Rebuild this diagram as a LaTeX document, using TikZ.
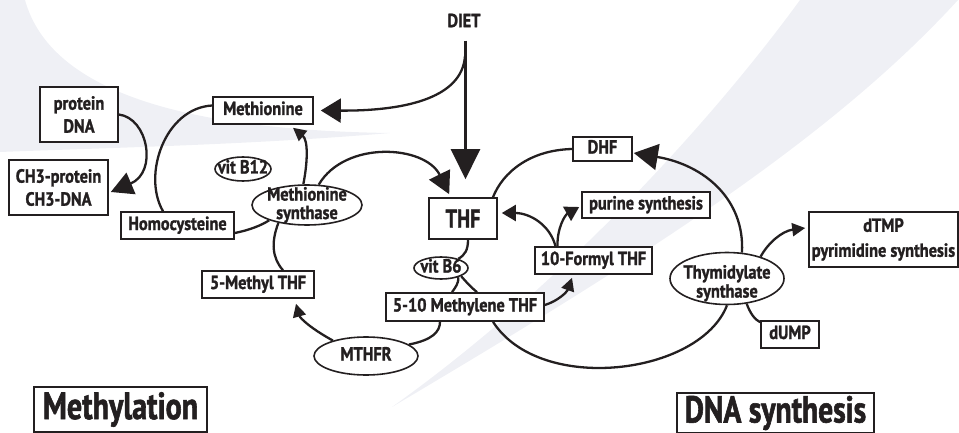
\documentclass[tikz,border=0pt]{standalone}
\usepackage{fontspec}
\setmainfont{PT Sans}[FakeStretch=0.86, BoldFeatures={FakeBold=1.3}]
\newfontfamily\bigfont{PT Sans}[FakeStretch=0.79, BoldFeatures={FakeBold=1.5}]
\usetikzlibrary{arrows.meta,shapes.geometric}
\definecolor{ink}{HTML}{231F20}
\definecolor{swoosh}{HTML}{EFF0F5}
\begin{document}
\begin{tikzpicture}[x=1pt,y=-1pt,
  lab/.style={font=\bfseries\fontsize{19}{23}\selectfont, text=ink, align=center, inner sep=0pt},
  bx/.style={lab, draw=ink, fill=white, line width=1.6pt, rectangle},
  oneline/.style={text height=13.5pt, text depth=4.5pt},
  ell/.style={lab, ellipse, draw=ink, fill=white, line width=1.6pt, inner sep=-6pt},
  con/.style={draw=ink, line width=2.3pt},
  tipbig/.style={-{Triangle[length=22pt,width=23pt]}},
  tipmid/.style={-{Triangle[length=14pt,width=16pt]}},
  tipsml/.style={-{Triangle[length=13pt,width=13pt]}},
]
\useasboundingbox (0,0) rectangle (959,433);
% background swooshes
\fill[swoosh] (0,0) -- (25,0) .. controls (50,90) and (180,130) .. (390,133)
  .. controls (250,145) and (100,148) .. (0,152) -- cycle;
\fill[swoosh] (800,0) .. controls (720,110) and (570,280) .. (392,407)
  .. controls (640,260) and (830,140) .. (958,0) -- cycle;

% boxes
\node[lab] (diet) at (464,20.5) {DIET};
\node[bx, oneline, minimum width=100pt, minimum height=27pt] (met) at (263,110.5) {Methionine};
\node[bx, minimum width=78pt, minimum height=55pt] (prot) at (79,114.5) {protein\\DNA};
\node[bx, minimum width=99pt, minimum height=55pt] (ch3) at (58.5,187.5) {CH3-protein\\CH3-DNA};
\node[bx, oneline, minimum width=113pt, minimum height=27pt] (homo) at (177.5,225.5) {Homocysteine};
\node[bx, oneline, minimum width=112pt, minimum height=27pt] (m5) at (258,284.5) {5-Methyl THF};
\node[bx, font=\bigfont\bfseries\fontsize{25.5}{28}\selectfont, minimum width=68pt, minimum height=41pt] (thf) at (463,218.5) {THF};
\node[bx, oneline, minimum width=158pt, minimum height=28pt] (m10) at (465,307) {5-10 Methylene THF};
\node[bx, oneline, minimum width=117pt, minimum height=27pt] (form) at (593.5,260.5) {10-Formyl THF};
\node[bx, oneline, minimum width=128pt, minimum height=26pt] (pur) at (646,205) {purine synthesis};
\node[bx, oneline, minimum width=59pt, minimum height=24pt] (dhf) at (602.5,149) {DHF};
\node[bx, font=\bfseries\fontsize{19}{25}\selectfont, minimum width=149pt, minimum height=55pt] (dtmp) at (883.5,239.5) {dTMP\\pyrimidine synthesis};
\node[bx, oneline, minimum width=58pt, minimum height=27pt] (dump) at (790,334.5) {dUMP};
\node[bx, font=\bigfont\bfseries\fontsize{38}{40}\selectfont, minimum width=173pt, minimum height=45pt] (methy) at (120.5,409.5) {Methylation};
\node[bx, font=\bigfont\bfseries\fontsize{37.5}{40}\selectfont, minimum width=197pt, minimum height=40pt] (dnas) at (775.5,413) {DNA synthesis};

% ellipses
\node[ell, oneline, minimum width=56pt, minimum height=24pt] (b12) at (243,169) {vit B12};
\node[ell, font=\bfseries\fontsize{19}{18.5}\selectfont, minimum width=110pt, minimum height=40pt] (ms) at (307,205) {Methionine\\synthase};
\node[ell, oneline, minimum width=104pt, minimum height=38pt] (mthfr) at (366,356) {MTHFR};
\node[ell, oneline, minimum width=54pt, minimum height=22pt] (b6) at (441,268) {vit B6};
\node[ell, font=\bfseries\fontsize{19}{19}\selectfont, minimum width=114pt, minimum height=52pt] (ts) at (727,278.5) {\rule{0pt}{23pt}Thymidylate\\synthase};

% connectors
\coordinate (dietbr) at (465,56);
\draw[con, shorten <=13pt, shorten >=18pt, -{Triangle[length=30pt,width=29pt]}] ([xshift=1.5pt]diet.south) -- ([xshift=1.5pt]diet.south |- thf.north);
\draw[con, -{Triangle[length=20pt,width=24pt]}] (dietbr) .. controls (462,100) and (400,111) .. ([xshift=7pt]met.east);
\draw[con, tipbig] (prot.east) .. controls (148,118) and (158,172) .. ([shift={(2,4.5)}]ch3.east);
\draw[con] ([yshift=5pt]met.west) .. controls (165,108) and (142,175) .. ([xshift=-14.5pt]homo.north);
\draw[con] ([yshift=-7.5pt]homo.east) .. controls (250,230) and (262,225) .. (ms.202);
\draw[con, tipsml] (ms.100) .. controls (308,160) and (308,140) .. ([shift={(30,3)}]met.south);
\draw[con, tipbig] (ms.60) .. controls (345,140) and (425,145) .. ([shift={(21,-3)}]thf.north west);
\draw[con] (ms.212) .. controls (271,242) and (272,258) .. ([xshift=25pt]m5.north);
\draw[con, tipsml] (mthfr.155) .. controls (310,328) and (300,318) .. ([shift={(38,5)}]m5.south);
\draw[con] (mthfr.15) .. controls (432,340) and (440,332) .. ([xshift=-25pt]m10.south);
\draw[con] ([xshift=5pt]thf.south) .. controls (468,250) and (465,255) .. (b6.28);
\draw[con] (b6.-28) .. controls (459,283) and (455,288) .. ([xshift=-13pt]m10.north);
\draw[con] (b6.-22) .. controls (467,283) and (472,288) .. ([xshift=12pt]m10.north);
\draw[con, tipsml] ([yshift=2pt]m10.east) .. controls (558,301) and (567,292) .. ([shift={(-21.5,3)}]form.south);
\draw[con, tipmid] ([xshift=-38pt]form.north) .. controls (550,225) and (530,213) .. ([shift={(4,-5.5)}]thf.east);
\draw[con, tipmid] ([xshift=-36pt]form.north) .. controls (557,228) and (565,215) .. ([shift={(-2,2)}]pur.west);
\draw[con] ([xshift=30pt]thf.north) .. controls (503,172) and (530,150) .. (dhf.west);
\draw[con, -{Triangle[length=24pt,width=26pt]}] (ts.60) .. controls (745,200) and (705,165) .. ([shift={(1,4)}]dhf.east);
\draw[con] (ts.south) .. controls (700,375) and (540,395) .. ([xshift=28pt]m10.south);
\draw[con, tipsml] (ts.33) .. controls (768,243) and (782,231) .. ([shift={(-3,-11.5)}]dtmp.west);
\draw[con] (ts.-52) .. controls (750,313) and (755,320) .. ([yshift=-2pt]dump.north west);
\end{tikzpicture}
\end{document}
